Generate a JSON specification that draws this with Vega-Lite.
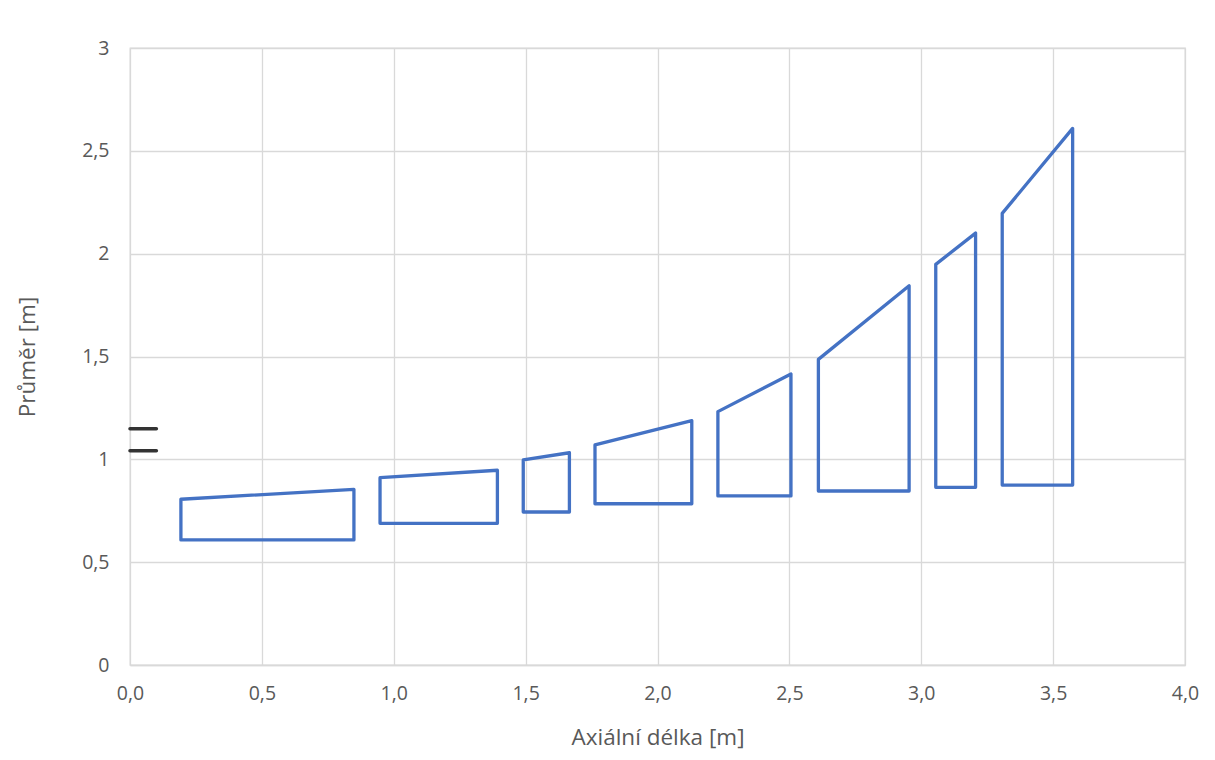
{
  "$schema": "https://vega.github.io/schema/vega-lite/v6.json",
  "autosize": "none",
  "width": 1055,
  "height": 617,
  "padding": {"left": 130, "top": 48, "right": 30, "bottom": 95},
  "background": "white",
  "config": {
    "font": "Open Sans",
    "view": {"stroke": "#d9d9d9", "strokeWidth": 1.3},
    "axis": {
      "gridColor": "#d9d9d9",
      "gridWidth": 1.3,
      "labelColor": "#595959",
      "titleColor": "#595959",
      "labelFontSize": 19.5,
      "titleFontSize": 22.5,
      "titleFontWeight": "normal",
      "ticks": false,
      "labelFlush": false,
      "labelFont": "Open Sans",
      "titleFont": "Open Sans"
    }
  },
  "datasets": {
    "shapes": [
      {"s": 1, "o": 1, "x": 0.193, "y": 0.608},
      {"s": 1, "o": 2, "x": 0.193, "y": 0.806},
      {"s": 1, "o": 3, "x": 0.849, "y": 0.854},
      {"s": 1, "o": 4, "x": 0.849, "y": 0.608},
      {"s": 1, "o": 5, "x": 0.193, "y": 0.608},
      {"s": 2, "o": 1, "x": 0.948, "y": 0.689},
      {"s": 2, "o": 2, "x": 0.948, "y": 0.911},
      {"s": 2, "o": 3, "x": 1.393, "y": 0.947},
      {"s": 2, "o": 4, "x": 1.393, "y": 0.689},
      {"s": 2, "o": 5, "x": 0.948, "y": 0.689},
      {"s": 3, "o": 1, "x": 1.491, "y": 0.744},
      {"s": 3, "o": 2, "x": 1.491, "y": 0.997},
      {"s": 3, "o": 3, "x": 1.666, "y": 1.032},
      {"s": 3, "o": 4, "x": 1.666, "y": 0.744},
      {"s": 3, "o": 5, "x": 1.491, "y": 0.744},
      {"s": 4, "o": 1, "x": 1.763, "y": 0.784},
      {"s": 4, "o": 2, "x": 1.763, "y": 1.070},
      {"s": 4, "o": 3, "x": 2.130, "y": 1.188},
      {"s": 4, "o": 4, "x": 2.130, "y": 0.784},
      {"s": 4, "o": 5, "x": 1.763, "y": 0.784},
      {"s": 5, "o": 1, "x": 2.229, "y": 0.822},
      {"s": 5, "o": 2, "x": 2.229, "y": 1.232},
      {"s": 5, "o": 3, "x": 2.506, "y": 1.415},
      {"s": 5, "o": 4, "x": 2.506, "y": 0.822},
      {"s": 5, "o": 5, "x": 2.229, "y": 0.822},
      {"s": 6, "o": 1, "x": 2.610, "y": 0.846},
      {"s": 6, "o": 2, "x": 2.610, "y": 1.486},
      {"s": 6, "o": 3, "x": 2.954, "y": 1.844},
      {"s": 6, "o": 4, "x": 2.954, "y": 0.846},
      {"s": 6, "o": 5, "x": 2.610, "y": 0.846},
      {"s": 7, "o": 1, "x": 3.055, "y": 0.864},
      {"s": 7, "o": 2, "x": 3.055, "y": 1.948},
      {"s": 7, "o": 3, "x": 3.206, "y": 2.100},
      {"s": 7, "o": 4, "x": 3.206, "y": 0.864},
      {"s": 7, "o": 5, "x": 3.055, "y": 0.864},
      {"s": 8, "o": 1, "x": 3.307, "y": 0.875},
      {"s": 8, "o": 2, "x": 3.307, "y": 2.196},
      {"s": 8, "o": 3, "x": 3.574, "y": 2.609},
      {"s": 8, "o": 4, "x": 3.574, "y": 0.875},
      {"s": 8, "o": 5, "x": 3.307, "y": 0.875}
    ],
    "marks": [
      {"s": "a", "o": 1, "x": 0.0, "y": 1.149},
      {"s": "a", "o": 2, "x": 0.1, "y": 1.149},
      {"s": "b", "o": 1, "x": 0.0, "y": 1.042},
      {"s": "b", "o": 2, "x": 0.1, "y": 1.042}
    ]
  },
  "encoding": {
    "x": {
      "field": "x", "type": "quantitative",
      "scale": {"domain": [0, 4], "nice": false, "zero": false},
      "axis": {
        "values": [0, 0.5, 1, 1.5, 2, 2.5, 3, 3.5, 4],
        "labelExpr": "replace(format(datum.value, '.1f'), '.', ',')",
        "title": "Axiální délka [m]",
        "labelPadding": 19,
        "titlePadding": 24,
        "domainColor": "#d9d9d9",
        "domainWidth": 1.3
      }
    },
    "y": {
      "field": "y", "type": "quantitative",
      "scale": {"domain": [0, 3], "nice": false, "zero": false},
      "axis": {
        "values": [0, 0.5, 1, 1.5, 2, 2.5, 3],
        "labelExpr": "replace(toString(datum.value), '.', ',')",
        "title": "Průměr [m]",
        "labelPadding": 21,
        "titlePadding": 42,
        "domain": false
      }
    },
    "order": {"field": "o", "type": "quantitative"},
    "detail": {"field": "s"}
  },
  "layer": [
    {
      "data": {"name": "marks"},
      "mark": {"type": "line", "color": "#333333", "strokeWidth": 3.5, "strokeCap": "round"}
    },
    {
      "data": {"name": "shapes"},
      "mark": {"type": "line", "color": "#4472C4", "strokeWidth": 3.3, "strokeJoin": "round", "strokeCap": "round"}
    }
  ]
}
